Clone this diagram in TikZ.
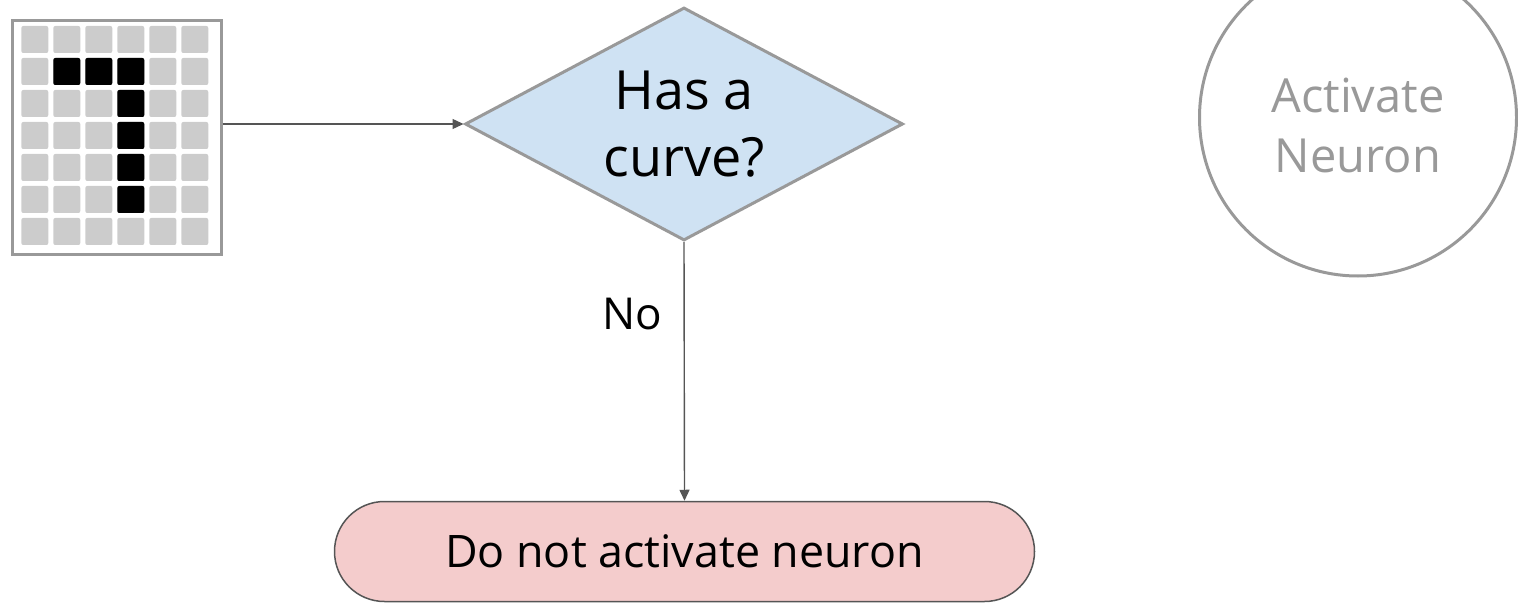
\documentclass[tikz,border=0pt]{standalone}
\usepackage{fontspec}
\setmainfont{Open Sans}
\usetikzlibrary{shapes.geometric,arrows.meta}
\definecolor{framegray}{HTML}{999999}
\definecolor{cellgray}{HTML}{CCCCCC}
\definecolor{linegray}{HTML}{555555}
\definecolor{decisionblue}{HTML}{CFE2F3}
\definecolor{stoppink}{HTML}{F4CCCC}
\begin{document}
\begin{tikzpicture}[x=1pt,y=-1pt,
  flow/.style={draw=linegray, line width=1.4pt, -{Triangle[length=11pt,width=10pt]}},
  cell/.style={rounded corners=2pt},
  framed/.style={draw=framegray, line width=3pt},
  decision/.style={framed, shape=diamond, aspect=1.87, fill=decisionblue, minimum width=438pt,
    minimum height=233pt, inner sep=0pt, align=center, font=\fontsize{54}{67}\selectfont},
  outcome/.style={framed, circle, minimum size=317pt, inner sep=0pt},
  outcometext/.style={text=framegray, align=center, font=\fontsize{47}{60}\selectfont},
  terminal/.style={draw=linegray, line width=1.5pt, fill=stoppink, rounded corners=50pt,
    minimum width=700pt, minimum height=100pt, font=\fontsize{44.8}{54}\selectfont},
  edgelabel/.style={inner sep=0pt, font=\fontsize{44}{50}\selectfont}
]
\useasboundingbox (0,0) rectangle (1518,604);
\clip (0,0) rectangle (1518,604);

% pixel image of the digit seven
\node[framed, minimum width=209pt, minimum height=233pt, inner sep=0pt, anchor=north west]
  (grid) at (10.5,19.5) {};
\foreach \c in {0,...,5}
  \foreach \r in {0,...,6}
    \fill[cellgray, cell] ({21.3+32*\c},{26+32*\r}) rectangle ++(27,27);
\foreach \c/\r in {1/1,2/1,3/1,3/2,3/3,3/4,3/5}
  \fill[black, cell] ({21.3+32*\c},{26+32*\r}) rectangle ++(27,27);

% decision
\node[decision] (q) at (684,124) {Has a\\curve?};

% possible outcomes
\node[outcome] (act) at (1358,117.5) {};
\node[outcometext] (actlabel) at (1358,125) {Activate\\Neuron};
\node[terminal] (stop) at (684.5,551.5) {Do not activate neuron};

% connectors
\draw[flow] (grid.east |- q.west) -- (q.west);
\draw[flow] (q.south) -- node[pos=0.28, anchor=east, xshift=-21pt, edgelabel] (no) {No} (stop.north);
\end{tikzpicture}
\end{document}
